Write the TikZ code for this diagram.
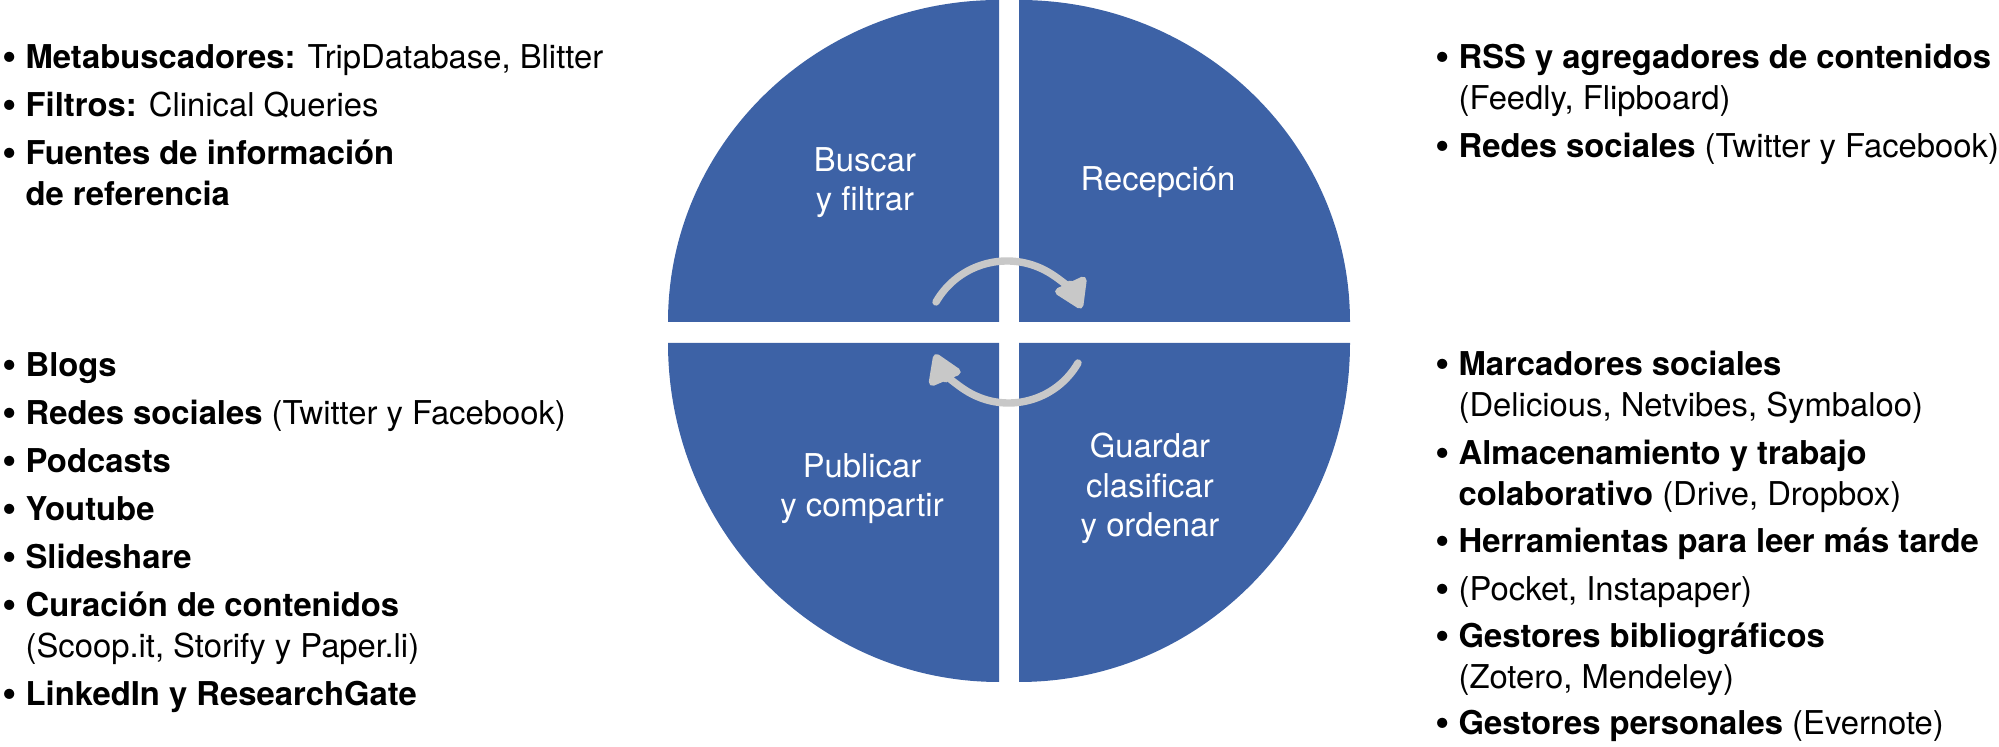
\documentclass[tikz,border=0pt]{standalone}
\usepackage{fontspec}
\setmainfont{TeX Gyre Heros}
\usetikzlibrary{arrows.meta}
\definecolor{qblue}{HTML}{3D62A6}
\definecolor{agray}{HTML}{C8C8C8}
\newcommand{\bl}{\makebox[11.6pt][l]{\raisebox{-0.08em}{\scalebox{1.25}{\textbullet}}}}
\newcommand{\nobl}{\hspace*{11.6pt}}
\begin{document}
\begin{tikzpicture}[x=0.5pt,y=-0.5pt,
  txt/.style={anchor=base west, inner sep=0pt, font=\fontsize{16.4}{20}\selectfont},
  lab/.style={anchor=base, inner sep=0pt, text=white, font=\fontsize{16.4}{20}\selectfont},
  quad/.style={fill=qblue},
  cyc/.style={draw=agray, line width=3.7pt, line cap=round, -{Triangle[length=16pt,width=19pt,round=false]}}]
\useasboundingbox (0,0) rectangle (1999,747);
% quadrants
\fill[quad] (999,322) -- (668,322) arc[start angle=180,end angle=270,x radius=331,y radius=322] -- cycle;
\fill[quad] (1019,322) -- (1350,322) arc[start angle=0,end angle=-90,x radius=331,y radius=322] -- cycle;
\fill[quad] (999,343) -- (668,343) arc[start angle=180,end angle=90,x radius=331,y radius=339] -- cycle;
\fill[quad] (1019,343) -- (1350,343) arc[start angle=0,end angle=90,x radius=331,y radius=339] -- cycle;
% cycle arrows
\draw[cyc] (936,302) arc[start angle=210,end angle=335,radius=82];
\draw[cyc] (1078,363) arc[start angle=30,end angle=157,radius=80];
% quadrant labels
\node[lab] (q1a) at (865,172) {Buscar};
\node[lab] (q1b) at (865,211) {y filtrar};
\node[lab] (q2a) at (1158,191) {Recepción};
\node[lab] (q3a) at (862,478) {Publicar};
\node[lab] (q3b) at (862,517) {y compartir};
\node[lab] (q4a) at (1150,458) {Guardar};
\node[lab] (q4b) at (1150,498) {clasificar};
\node[lab] (q4c) at (1150,537) {y ordenar};
% left top list
\node[txt] (lt1) at (2,69) {\bl\textbf{Metabuscadores:} TripDatabase, Blitter};
\node[txt] (lt2) at (2,117) {\bl\textbf{Filtros:} Clinical Queries};
\node[txt] (lt3) at (2,165) {\bl\textbf{Fuentes de información}};
\node[txt] (lt4) at (2,206) {\nobl\textbf{de referencia}};
% left bottom list
\node[txt] (lb1) at (2,377) {\bl\textbf{Blogs}};
\node[txt] (lb2) at (2,425) {\bl\textbf{Redes sociales} (Twitter y Facebook)};
\node[txt] (lb3) at (2,473) {\bl\textbf{Podcasts}};
\node[txt] (lb4) at (2,521) {\bl\textbf{Youtube}};
\node[txt] (lb5) at (2,569) {\bl\textbf{Slideshare}};
\node[txt] (lb6) at (2,617) {\bl\textbf{Curación de contenidos}};
\node[txt] (lb7) at (2,658) {\nobl(Scoop.it, Storify y Paper.li)};
\node[txt] (lb8) at (2,706) {\bl\textbf{LinkedIn y ResearchGate}};
% right top list
\node[txt] (rt1) at (1435,69) {\bl\textbf{RSS y agregadores de contenidos}};
\node[txt] (rt2) at (1435,110) {\nobl(Feedly, Flipboard)};
\node[txt] (rt3) at (1435,158) {\bl\textbf{Redes sociales} (Twitter y Facebook)};
% right bottom list
\node[txt] (rb1) at (1435,376) {\bl\textbf{Marcadores sociales}};
\node[txt] (rb2) at (1435,417) {\nobl(Delicious, Netvibes, Symbaloo)};
\node[txt] (rb3) at (1435,465) {\bl\textbf{Almacenamiento y trabajo}};
\node[txt] (rb4) at (1435,506) {\nobl\textbf{colaborativo} (Drive, Dropbox)};
\node[txt] (rb5) at (1435,553) {\bl\textbf{Herramientas para leer más tarde}};
\node[txt] (rb6) at (1435,601) {\bl(Pocket, Instapaper)};
\node[txt] (rb7) at (1435,648) {\bl\textbf{Gestores bibliográficos}};
\node[txt] (rb8) at (1435,689) {\nobl(Zotero, Mendeley)};
\node[txt] (rb9) at (1435,735) {\bl\textbf{Gestores personales} (Evernote)};
\end{tikzpicture}
\end{document}
